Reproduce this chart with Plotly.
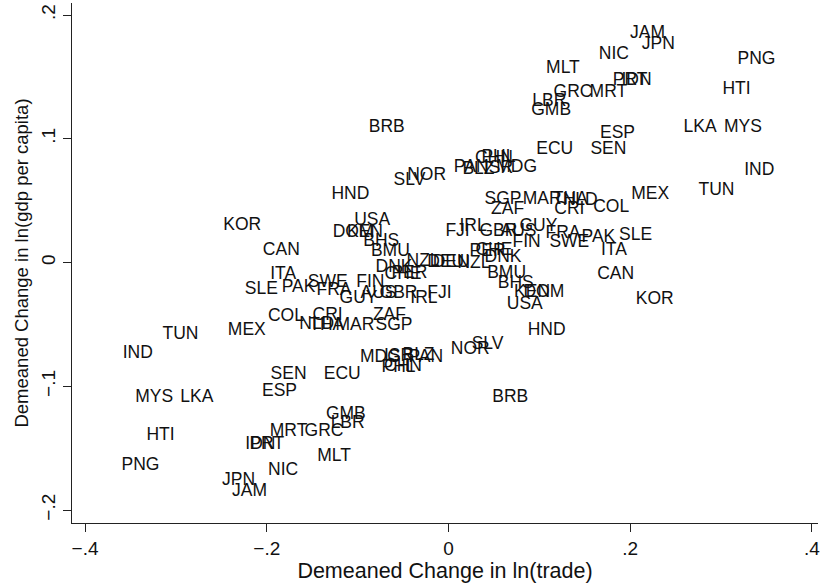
import plotly.graph_objects as go

countries = ["JAM", "JPN", "NIC", "PNG", "MLT", "PRT", "IDN", "HTI", "GRC", "MRT",
             "LBR", "GMB", "LKA", "MYS", "ESP", "ECU", "SEN", "BRB", "NOR", "SLV",
             "HND", "SGP", "MAR", "THA", "NLD", "ZAF", "CRI", "COL", "MEX", "TUN",
             "IND", "SLE", "PAK", "ITA", "CAN", "KOR", "SWE", "FRA", "FIN", "GUY",
             "GBR", "AUS", "IRL", "FJI", "USA", "DOM", "KEN", "BHS", "BMU", "DNK",
             "NZL", "PER", "CHE", "DEU", "PAN", "BLZ", "ISR", "MDG", "CHN", "PHL"]

# period 1: demeaned change in ln(trade) and ln(gdp per capita)
trade_p1 = [0.219, 0.231, 0.182, 0.339, 0.126, 0.200, 0.207, 0.317, 0.137, 0.176,
            0.111, 0.113, 0.277, 0.324, 0.186, 0.117, 0.176, -0.068, -0.024, -0.043,
            -0.108, 0.060, 0.103, 0.134, 0.145, 0.065, 0.133, 0.179, 0.222, 0.295,
            0.342, 0.206, 0.165, 0.182, 0.184, 0.227, 0.133, 0.126, 0.086, 0.099,
            0.055, 0.077, 0.027, 0.010, -0.084, -0.105, -0.092, -0.074, -0.064, 0.060,
            0.028, 0.043, 0.050, 0.003, 0.025, 0.033, 0.055, 0.075, 0.050, 0.055]
gdp_p1 = [0.185, 0.176, 0.168, 0.164, 0.157, 0.147, 0.147, 0.140, 0.137, 0.137,
          0.130, 0.123, 0.109, 0.109, 0.104, 0.091, 0.091, 0.109, 0.070, 0.066,
          0.055, 0.051, 0.051, 0.051, 0.050, 0.043, 0.043, 0.044, 0.055, 0.058,
          0.074, 0.022, 0.020, 0.010, -0.010, -0.030, 0.016, 0.023, 0.016, 0.029,
          0.025, 0.025, 0.029, 0.025, 0.034, 0.024, 0.024, 0.017, 0.009, 0.004,
          -0.001, 0.009, 0.010, 0.000, 0.077, 0.075, 0.076, 0.077, 0.084, 0.085]

# period 2: demeaned change in ln(trade) and ln(gdp per capita)
trade_p2 = [-0.219, -0.231, -0.182, -0.339, -0.126, -0.200, -0.207, -0.317, -0.137, -0.176,
            -0.111, -0.113, -0.277, -0.324, -0.186, -0.117, -0.176, 0.068, 0.024, 0.043,
            0.108, -0.060, -0.103, -0.134, -0.145, -0.065, -0.133, -0.179, -0.222, -0.295,
            -0.342, -0.206, -0.165, -0.182, -0.184, -0.227, -0.133, -0.126, -0.086, -0.099,
            -0.055, -0.077, -0.027, -0.010, 0.084, 0.105, 0.092, 0.074, 0.064, -0.060,
            -0.028, -0.043, -0.050, -0.003, -0.025, -0.033, -0.055, -0.075, -0.050, -0.055]
gdp_p2 = [-0.185, -0.176, -0.168, -0.164, -0.157, -0.147, -0.147, -0.140, -0.137, -0.137,
          -0.130, -0.123, -0.109, -0.109, -0.104, -0.091, -0.091, -0.109, -0.070, -0.066,
          -0.055, -0.051, -0.051, -0.051, -0.050, -0.043, -0.043, -0.044, -0.055, -0.058,
          -0.074, -0.022, -0.020, -0.010, 0.010, 0.030, -0.016, -0.023, -0.016, -0.029,
          -0.025, -0.025, -0.029, -0.025, -0.034, -0.024, -0.024, -0.017, -0.009, -0.004,
          0.001, -0.009, -0.010, 0.000, -0.077, -0.075, -0.076, -0.077, -0.084, -0.085]

x_tickvals = [-0.4, -0.2, 0, 0.2, 0.4]
x_ticktext = ["\u2212.4", "\u2212.2", "0", ".2", ".4"]
y_tickvals = [-0.2, -0.1, 0, 0.1, 0.2]
y_ticktext = ["\u2212.2", "\u2212.1", "0", ".1", ".2"]

FONT = "Liberation Sans, Arial, Helvetica, sans-serif"

fig = go.Figure()
fig.add_trace(go.Scatter(
    x=trade_p1 + trade_p2,
    y=gdp_p1 + gdp_p2,
    text=countries + countries,
    mode="text",
    textposition="middle center",
    textfont=dict(family=FONT, size=17.5, color="#111111"),
    hoverinfo="text",
    showlegend=False,
))

axis_common = dict(
    showline=True, linecolor="#222222", linewidth=1.2,
    ticks="outside", ticklen=8, tickwidth=1, tickcolor="#222222",
    showgrid=False, zeroline=False, mirror=False,
    tickfont=dict(family=FONT, size=19, color="#111111"),
    ticklabeloverflow="allow",
)

fig.update_xaxes(
    range=[-0.4144, 0.4067],
    tickmode="array", tickvals=x_tickvals, ticktext=x_ticktext,
    title=dict(text="Demeaned Change in ln(trade)",
               font=dict(family=FONT, size=21.5, color="#111111"), standoff=1),
    **axis_common,
)
fig.update_yaxes(
    range=[-0.2105, 0.2097],
    tickmode="array", tickvals=y_tickvals, ticktext=y_ticktext, tickangle=-90,
    title=dict(text="Demeaned Change in ln(gdp per capita)",
               font=dict(family=FONT, size=18.5, color="#111111"), standoff=4),
    **axis_common,
)

fig.update_layout(
    width=820, height=586,
    margin=dict(l=72, r=0, t=3, b=63),
    paper_bgcolor="white", plot_bgcolor="white",
)

fig.write_html("out.html", config={"displayModeBar": False},
               post_script="document.body.style.margin='0px';")
